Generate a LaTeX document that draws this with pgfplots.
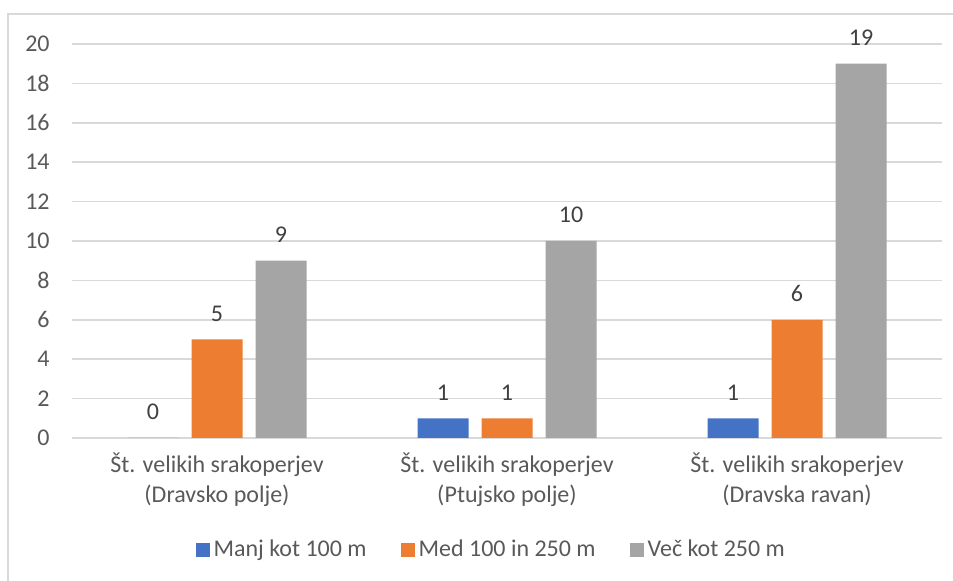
\documentclass[border=0pt]{standalone}
\usepackage{fontspec}
\setmainfont{Carlito}
\usepackage{pgfplots}
\pgfplotsset{compat=1.18}
\definecolor{sblue}{HTML}{4472C4}
\definecolor{sorange}{HTML}{ED7D31}
\definecolor{sgray}{HTML}{A5A5A5}
\definecolor{gridc}{HTML}{D9D9D9}
\definecolor{txt}{HTML}{595959}
\definecolor{lbl}{HTML}{404040}
\begin{document}
\begin{tikzpicture}
\useasboundingbox (0,0) rectangle (476.5pt,290.5pt);
\draw[line width=0.75pt, gridc] (4pt,-5pt) rectangle (485pt,283.5pt);
\begin{axis}[
  at={(36pt,71.5pt)}, anchor=south west,
  scale only axis, width=435pt, height=197pt,
  ybar=6.5pt, bar width=25.5pt,
  xmin=-0.5, xmax=2.5, ymin=0, ymax=20,
  enlargelimits=false, clip=false,
  xtick={0,1,2},
  xticklabels={{Št. velikih srakoperjev\\(Dravsko polje)},
               {Št. velikih srakoperjev\\(Ptujsko polje)},
               {Št. velikih srakoperjev\\(Dravska ravan)}},
  ytick={0,2,...,20},
  major tick length=0pt,
  axis line style={draw=none},
  ymajorgrids, grid style={gridc, line width=0.75pt},
  /pgf/number format/assume math mode=true,
  font=\fontsize{12}{15}\selectfont,
  ticklabel style={txt},
  yticklabel style={inner sep=0pt, xshift=-11pt},
  xticklabel style={align=center, yshift=-4pt},
  nodes near coords,
  every node near coord/.append style={lbl, anchor=base, yshift=9pt},
  legend columns=3,
  legend style={at={(0.483,-0.284)}, anchor=center, draw=none, fill=none,
    text=txt, /tikz/every even column/.append style={column sep=15pt}},
  legend image code/.code={\fill[#1] (1pt,-3.5pt) rectangle (8pt,3.5pt);},
]
\addplot[fill=sblue, draw=none]   coordinates {(0,0) (1,1) (2,1)};
\addplot[fill=sorange, draw=none] coordinates {(0,5) (1,1) (2,6)};
\addplot[fill=sgray, draw=none]   coordinates {(0,9) (1,10) (2,19)};
\legend{Manj kot 100 m, Med 100 in 250 m, Več kot 250 m}
\end{axis}
\end{tikzpicture}
\end{document}
